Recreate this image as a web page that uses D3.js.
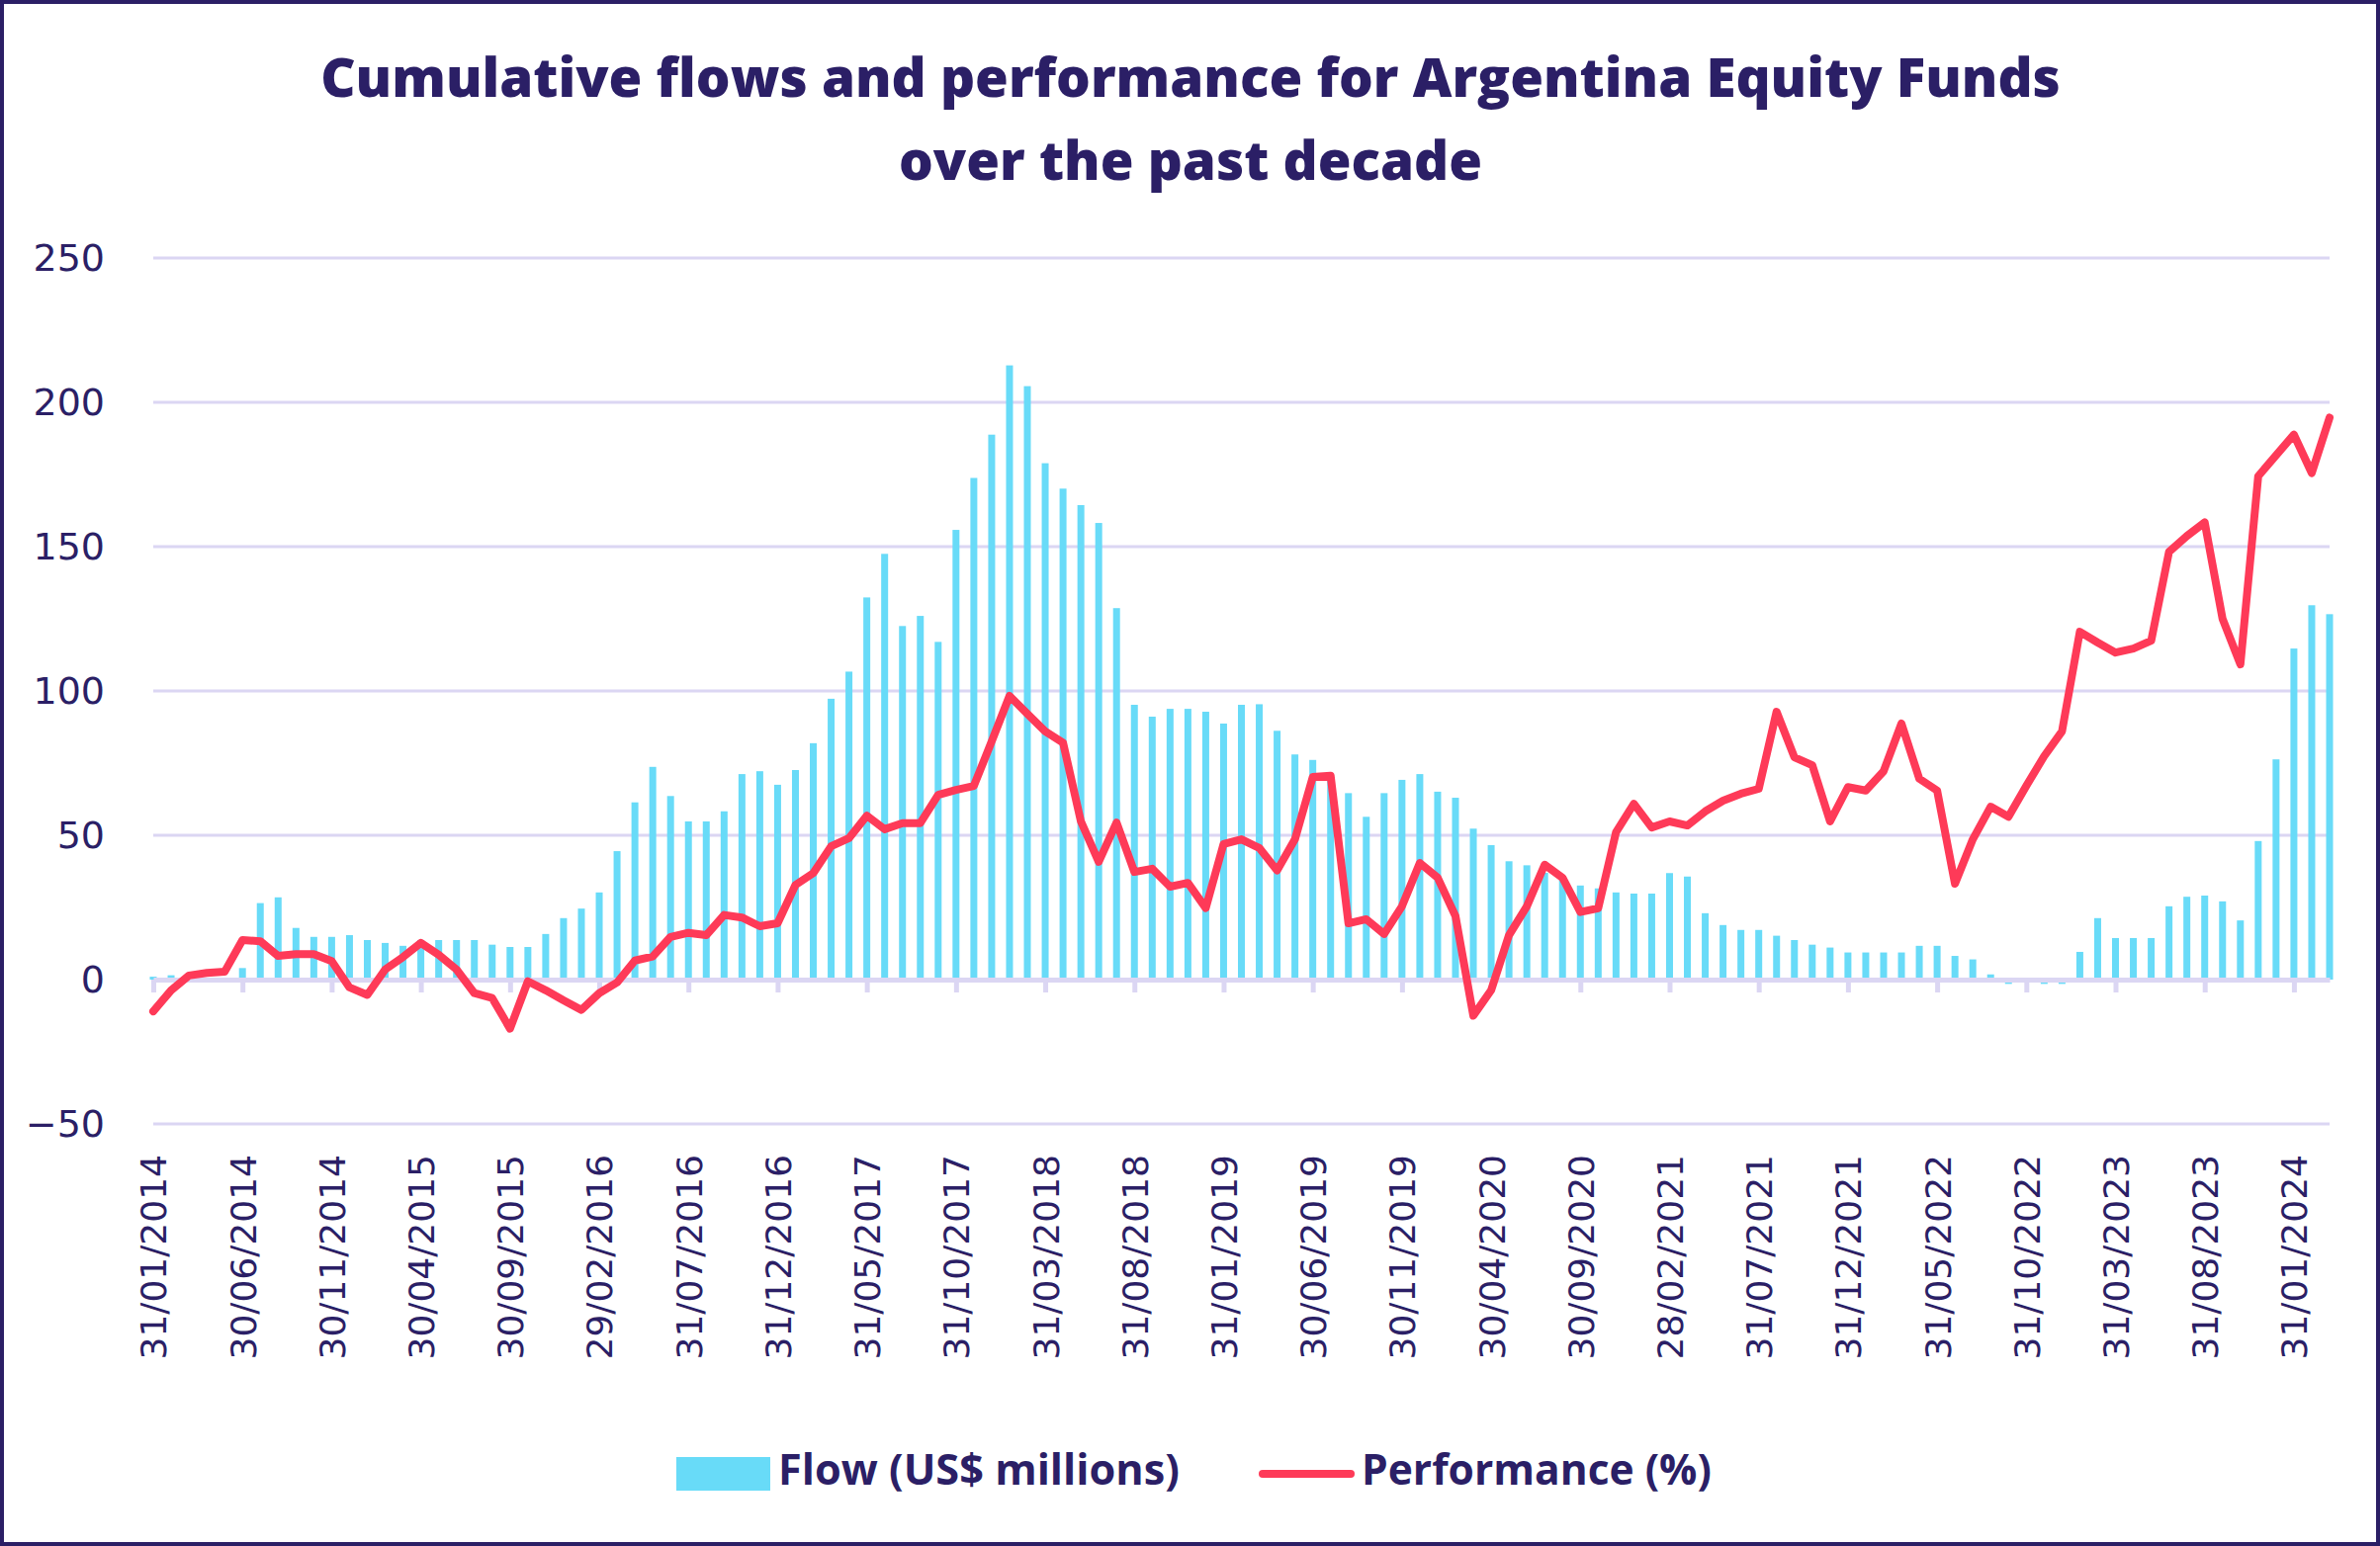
<!DOCTYPE html>
<html><head><meta charset="utf-8">
<script src="https://cdn.jsdelivr.net/npm/d3@7"></script>
<style>body{margin:0;background:#fff}</style>
</head><body>
<svg id="c" width="2407" height="1564"></svg>
<script>
// ---------- DATA ----------
const titleLines = ["Cumulative flows and performance for Argentina Equity Funds", "over the past decade"];
const seriesNames = ["Flow (US$ millions)", "Performance (%)"];
// month-end categories Jan 2014 .. Mar 2024
const monthStarts = d3.utcMonth.range(new Date(Date.UTC(2014,0,1)), new Date(Date.UTC(2024,3,1)));
const fmtDate = d3.utcFormat("%d/%m/%Y");
const categories = monthStarts.map(m => fmtDate(d3.utcDay.offset(d3.utcMonth.offset(m,1),-1)));
const tickLabels = ["31/01/2014","30/06/2014","30/11/2014","30/04/2015","30/09/2015","29/02/2016",
  "31/07/2016","31/12/2016","31/05/2017","31/10/2017","31/03/2018","31/08/2018","31/01/2019",
  "30/06/2019","30/11/2019","30/04/2020","30/09/2020","28/02/2021","31/07/2021","31/12/2021",
  "31/05/2022","31/10/2022","31/03/2023","31/08/2023","31/01/2024"];
const yTicks = [-50, 0, 50, 100, 150, 200, 250];
const flow = [
  1, 1.5, -0.5, 0.3, 0.3, 4, 26.5, 28.5, 17.9, 14.8, 14.8, 15.4, 13.7, 12.7, 11.7,
  13.7, 13.7, 13.7, 13.7, 12.1, 11.3, 11.3, 15.8, 21.3, 24.6, 30.2, 44.5, 61.4, 73.7, 63.6, 54.8, 54.8, 58.3, 71.2, 72.2, 67.5, 72.6, 81.9,
  97.3, 106.7, 132.4, 147.5, 122.5, 126.0, 117.0, 155.8, 173.8, 188.8, 212.8, 205.6, 178.9, 170.1, 164.4, 158.2, 128.7, 95.2, 91.1, 93.8, 93.8, 92.8,
  88.7, 95.2, 95.4, 86.2, 78.0, 76.1, 70, 64.6, 56.4, 64.6, 69.2, 71.2, 65.1, 63.0, 52.3, 46.6, 41.0, 39.6, 37, 35, 32.6, 31.6,
  30.2, 29.8, 29.8, 36.9, 35.7, 23.0, 18.9, 17.2, 17.2, 15.2, 13.7, 12.1, 11.1, 9.4, 9.4, 9.4, 9.4, 11.7, 11.7, 8.2, 7.0, 1.8,
  -1.5, -1, -1.5, -1.5, 9.6, 21.3, 14.4, 14.4, 14.4, 25.4, 28.7, 29.1, 27.1, 20.5, 48.0, 76.3, 114.7, 129.7, 126.6
];
const performance = [
  -11, -3.7, 1.4, 2.3, 2.7, 13.7, 13.3, 8.2, 8.8, 8.8, 6.4, -2.7, -5.3, 3.5, 7.8,
  12.7, 8.6, 3.5, -4.7, -6.4, -17, -0.6, -3.7, -7.2, -10.5, -4.7, -1.0, 6.6, 8.0, 14.8, 16.2, 15.4, 22.4, 21.5, 18.5, 19.5, 32.8, 36.9,
  46.2, 49.0, 56.8, 52.1, 54.2, 54.2, 64.0, 65.7, 67.1, 82.5, 98.3, 92.1, 86.0, 82.1, 54.8, 40.8, 54.4, 37.3, 38.4, 32.2, 33.5, 24.8,
  47.0, 48.6, 45.6, 37.8, 48.6, 70.2, 70.6, 19.5, 20.9, 15.8, 25.4, 40.4, 35.3, 22.0, -12.5, -3.7, 15.4, 25.4, 39.8, 35.3, 23.4, 24.7,
  51.1, 60.9, 52.7, 54.8, 53.4, 58.3, 62.0, 64.4, 66.1, 92.8, 77.0, 74.3, 54.8, 66.7, 65.5, 72.2, 88.7, 69.6, 65.5, 33.2, 48.6, 59.9,
  56.4, 67.1, 77.4, 86.0, 120.5, 116.8, 113.3, 114.7, 117.4, 148.2, 153.7, 158.4, 125.0, 109.2, 174.4, 181.6, 188.8, 175.5, 194.7
];

// ---------- STYLE ----------
const NAVY = "#2b1f66", BAR = "#68dbf8", LINE = "#fe3a58", GRID = "#dbd6f3";
const svg = d3.select("#c");
svg.append("rect").attr("x",2).attr("y",2).attr("width",2403).attr("height",1560)
  .attr("fill","#fff").attr("stroke",NAVY).attr("stroke-width",4);

const x = d3.scalePoint().domain(categories).range([155, 2356]);
const y = d3.scaleLinear().domain([-50, 250]).range([1137, 261]);

// title
const fitText = (sel, w) => { const cur = sel.node().getComputedTextLength(); sel.attr("font-size", parseFloat(sel.attr("font-size")) * w / cur); };
const tFont = "'Open Sans', sans-serif";
const t1 = svg.append("text").attr("x",1204).attr("y",98).attr("text-anchor","middle")
  .attr("font-family",tFont).attr("font-weight",800).attr("font-size",52).attr("fill",NAVY).text(titleLines[0]);
fitText(t1, 1760);
svg.append("text").attr("x",1204).attr("y",182).attr("text-anchor","middle")
  .attr("font-family",tFont).attr("font-weight",800).attr("font-size",t1.attr("font-size")).attr("fill",NAVY).text(titleLines[1]);

// gridlines
svg.append("g").selectAll("line").data(yTicks.filter(d => d !== 0)).join("line")
  .attr("x1",155).attr("x2",2356).attr("y1",d=>y(d)).attr("y2",d=>y(d))
  .attr("stroke",GRID).attr("stroke-width",3);

// y axis labels
const yAxis = svg.append("g").attr("transform","translate(155,0)")
  .call(d3.axisLeft(y).tickValues(yTicks).tickSize(0).tickPadding(49));
yAxis.select(".domain").remove();
yAxis.selectAll("text").attr("font-family","'DejaVu Sans', sans-serif").attr("font-size",38).attr("fill",NAVY);

// bars
svg.append("g").selectAll("rect").data(flow).join("rect")
  .attr("x",(d,i)=>x(categories[i]) - 3.5).attr("width",7)
  .attr("y",d=>y(Math.max(0,d))).attr("height",d=>Math.abs(y(d)-y(0)))
  .attr("fill",BAR);

// x axis (zero line)
const xAxis = svg.append("g").attr("transform",`translate(0,${y(0)})`)
  .call(d3.axisBottom(x).tickValues(tickLabels).tickSize(13).tickSizeOuter(0));
xAxis.select(".domain").attr("stroke",GRID).attr("stroke-width",5);
xAxis.selectAll(".tick line").attr("stroke",GRID).attr("stroke-width",5);
xAxis.selectAll("text").attr("font-family","'DejaVu Sans', sans-serif").attr("font-size",36).attr("fill",NAVY)
  .attr("transform","rotate(-90)").attr("text-anchor","end")
  .attr("x", -(1168 - y(0))).attr("y",0).attr("dy","0.36em");

// performance line
svg.append("path").datum(performance)
  .attr("d", d3.line().x((d,i)=>x(categories[i])).y(d=>y(d)))
  .attr("fill","none").attr("stroke",LINE).attr("stroke-width",8)
  .attr("stroke-linejoin","round").attr("stroke-linecap","round");

// legend
svg.append("rect").attr("x",684).attr("y",1474).attr("width",95).attr("height",34).attr("fill",BAR);
const l1 = svg.append("text").attr("x",787).attr("y",1502).attr("font-family",tFont).attr("font-weight",700)
  .attr("font-size",39).attr("fill",NAVY).text(seriesNames[0]);
fitText(l1, 406);
svg.append("line").attr("x1",1277).attr("x2",1366).attr("y1",1491).attr("y2",1491)
  .attr("stroke",LINE).attr("stroke-width",8).attr("stroke-linecap","round");
const l2 = svg.append("text").attr("x",1377).attr("y",1502).attr("font-family",tFont).attr("font-weight",700)
  .attr("font-size",39).attr("fill",NAVY).text(seriesNames[1]);
fitText(l2, 354);
</script>
</body></html>
